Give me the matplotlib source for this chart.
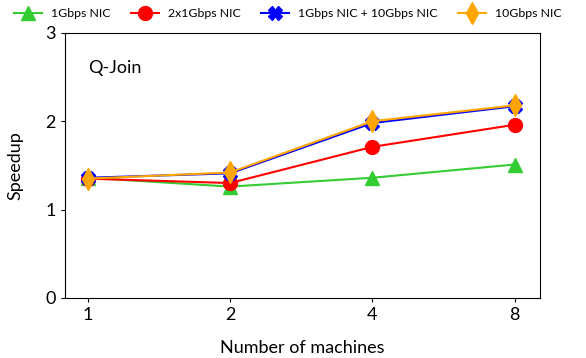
import matplotlib
matplotlib.use('Agg')
import matplotlib.pyplot as plt

machines = ['1', '2', '4', '8']
nic_1g = [1.36, 1.26, 1.36, 1.51]
nic_2x1g = [1.35, 1.30, 1.71, 1.96]
nic_1g_10g = [1.36, 1.41, 1.98, 2.17]
nic_10g = [1.35, 1.42, 2.00, 2.18]

plt.rcParams['font.family'] = ['Lato', 'DejaVu Sans']

fig = plt.figure(figsize=(5.86, 3.58), dpi=100)
ax = fig.add_axes([0.111, 0.168, 0.811, 0.74])

xs = range(len(machines))
ax.plot(xs, nic_1g, color='#33cc33', marker='^', markersize=10, lw=1.5, label='1Gbps NIC')
ax.plot(xs, nic_2x1g, color='red', marker='o', markersize=10, lw=1.5, label='2x1Gbps NIC')
ax.plot(xs, nic_1g_10g, color='blue', marker='X', markersize=10, lw=1.5, label='1Gbps NIC + 10Gbps NIC')
ax.plot(xs, nic_10g, color='orange', marker='d', markersize=11, lw=1.5, label='10Gbps NIC')

ax.set_xlim(-0.16, 3.18)
ax.set_ylim(0, 3)
ax.set_xticks(list(xs))
ax.set_xticklabels(machines)
ax.set_yticks([0, 1, 2, 3])
ax.tick_params(labelsize=13, length=3)
ax.set_xlabel('Number of machines', fontsize=13, labelpad=12)
ax.set_ylabel('Speedup', fontsize=13, labelpad=16)
ax.text(0, 2.55, 'Q-Join', fontsize=13)

fig.legend(loc='center left', ncol=4, frameon=False, fontsize=8.8,
           bbox_to_anchor=(0.005, 0.962), columnspacing=1.7, handlelength=2.3,
           handletextpad=0.7)

fig.savefig('out.png', dpi=100)
